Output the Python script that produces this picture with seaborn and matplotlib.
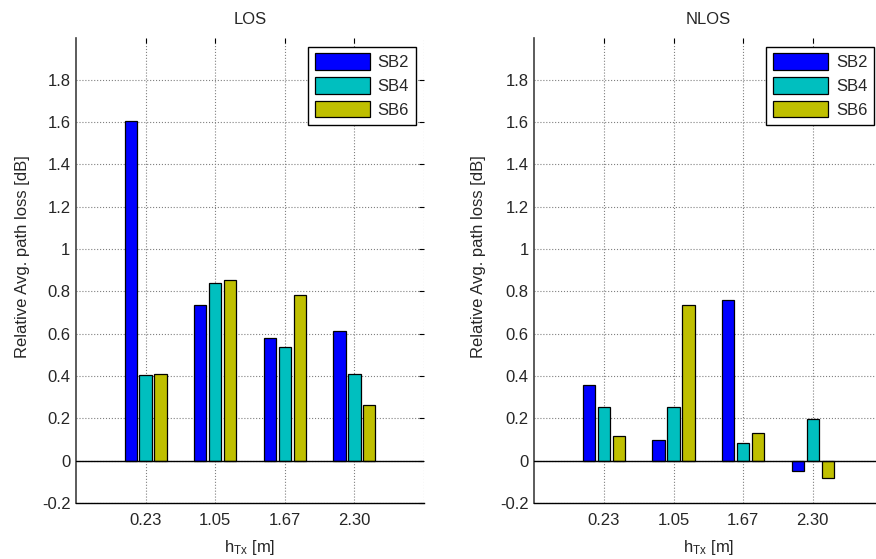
import numpy as np
import pandas as pd
import matplotlib
matplotlib.use("Agg")
import matplotlib.pyplot as plt
import seaborn as sns

# ---- data ----
heights = ["0.23", "1.05", "1.67", "2.30"]
bands = ["SB2", "SB4", "SB6"]
los_sb2 = [1.605, 0.736, 0.582, 0.614]
los_sb4 = [0.405, 0.840, 0.536, 0.411]
los_sb6 = [0.411, 0.852, 0.781, 0.264]
nlos_sb2 = [0.357, 0.099, 0.760, -0.050]
nlos_sb4 = [0.252, 0.252, 0.084, 0.197]
nlos_sb6 = [0.118, 0.735, 0.130, -0.084]
yticks = [-0.2, 0, 0.2, 0.4, 0.6, 0.8, 1, 1.2, 1.4, 1.6, 1.8]
ytick_labels = ["-0.2", "0", "0.2", "0.4", "0.6", "0.8", "1", "1.2", "1.4", "1.6", "1.8"]
colors = ["#0000ff", "#00bfbf", "#bfbf00"]

sns.set_style("white")
plt.rcParams["font.family"] = ["Liberation Sans", "DejaVu Sans"]
plt.rcParams["mathtext.fontset"] = "custom"
plt.rcParams["mathtext.rm"] = "Liberation Sans"

def make_df(a, b, c):
    rows = []
    for vals, band in zip([a, b, c], bands):
        for h, v in zip(heights, vals):
            rows.append({"h": h, "band": band, "val": v})
    return pd.DataFrame(rows)

fig = plt.figure(figsize=(8.76, 5.59), dpi=100)
W, H = 876, 559
ax_w = 348 / W
ax_b = (H - 503) / H
ax_h = (503 - 37.5) / H
ax1 = fig.add_axes([76 / W, ax_b, ax_w, ax_h])
ax2 = fig.add_axes([534.3 / W, ax_b, ax_w, ax_h])

FS = 12
for ax, df, title, ylx in [(ax1, make_df(los_sb2, los_sb4, los_sb6), "LOS", -0.132),
                           (ax2, make_df(nlos_sb2, nlos_sb4, nlos_sb6), "NLOS", -0.139)]:
    sns.barplot(data=df, x="h", y="val", hue="band", hue_order=bands,
                order=heights, palette=colors, width=0.645, gap=0.18,
                edgecolor="black", linewidth=0.9, saturation=1,
                errorbar=None, ax=ax, zorder=3)
    ax.set_xlim(-1, 4)
    ax.set_ylim(-0.2, 2.0)
    ax.set_yticks(yticks)
    ax.set_yticklabels(ytick_labels, fontsize=FS)
    ax.set_xticks(range(len(heights)))
    ax.set_xticklabels(heights, fontsize=FS)
    ax.grid(True, linestyle=":", color="#808080", linewidth=0.8, zorder=0)
    ax.set_axisbelow(True)
    ax.axvline(4, linestyle=":", color="#808080", linewidth=0.8, zorder=1)
    ax.axhline(0, color="black", linewidth=1.0, zorder=4)
    for s in ["top", "right"]:
        ax.spines[s].set_visible(False)
    ax.spines["left"].set_color("#404040")
    ax.spines["left"].set_linewidth(1.2)
    ax.spines["bottom"].set_color("black")
    ax.spines["bottom"].set_linewidth(1.0)
    ax.tick_params(direction="in", length=3.5, width=0.8, top=True, right=True,
                   labelsize=FS, color="black")
    ax.tick_params(axis="x", pad=7)
    ax.tick_params(axis="y", pad=4)
    ax.set_title(title, fontsize=FS, pad=10)
    ax.set_xlabel(r"$\mathregular{h_{Tx}}$ [m]", fontsize=FS)
    ax.xaxis.set_label_coords(0.5, -0.075)
    ax.set_ylabel("Relative Avg. path loss [dB]", fontsize=FS)
    ax.yaxis.set_label_coords(ylx, 0.53)
    handles, labels = ax.get_legend_handles_labels()
    leg = ax.legend(handles, labels, loc="upper right",
                    bbox_to_anchor=(1 - 8 / 348, 1 - 9 / 465.5),
                    borderaxespad=0, fancybox=False, framealpha=1,
                    edgecolor="black", fontsize=FS, handlelength=3.3,
                    handleheight=1.15, handletextpad=0.45, labelspacing=0.4,
                    borderpad=0.42)
    leg.get_frame().set_linewidth(1.0)

fig.savefig("out.png", dpi=100)
